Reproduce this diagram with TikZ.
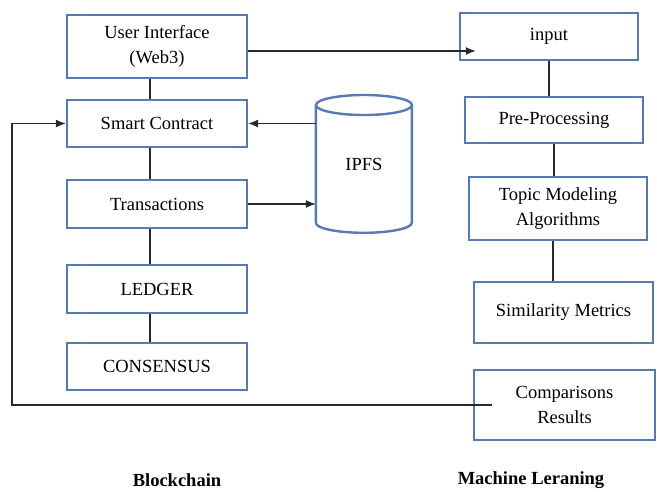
\documentclass[tikz,border=0pt]{standalone}
\usepackage{fontspec}
\setmainfont{Liberation Serif}
\usetikzlibrary{arrows.meta}
\definecolor{boxblue}{RGB}{88,122,178}
\definecolor{linegray}{RGB}{40,40,40}
\begin{document}
\begin{tikzpicture}[x=1pt,y=-1pt,
  blk/.style={draw=boxblue,line width=2.4pt,fill=white,align=center,inner sep=0pt,
    font=\fontsize{18.5}{25}\selectfont},
  conn/.style={draw=linegray,line width=1.3pt},
  arr/.style={conn,-{Latex[length=10pt,width=8pt]}},
  lbl/.style={font=\fontsize{18.5}{22}\selectfont\bfseries}]
\useasboundingbox[fill=white] (0,0) rectangle (657,491);
% left column
\node[blk,minimum width=180pt,minimum height=63pt] (ui) at (157,46.5) {User Interface\\(Web3)};
\node[blk,minimum width=180pt,minimum height=47pt] (sc) at (157,123.5) {Smart Contract};
\node[blk,minimum width=180pt,minimum height=48pt] (tx) at (157,204) {Transactions};
\node[blk,minimum width=180pt,minimum height=48pt] (ledger) at (157,289) {LEDGER};
\node[blk,minimum width=180pt,minimum height=47pt] (cons) at (157,366.5) {CONSENSUS};
% cylinder
\node[minimum width=96pt,minimum height=138pt,inner sep=0pt,font=\fontsize{18.5}{25}\selectfont] (ipfs) at (364,164) {IPFS};
\draw[boxblue,line width=2.4pt] (364,105) ellipse [x radius=48, y radius=10];
\draw[boxblue,line width=2.4pt] (ipfs.north west) ++(0,10) -- ++(0,118)
   arc[start angle=180,end angle=360,x radius=48,y radius=-10] -- ++(0,-118);
% right column
\node[blk,minimum width=178pt,minimum height=47pt] (input) at (549,36.5) {input};
\node[blk,minimum width=178pt,minimum height=46pt] (pre) at (554,120) {Pre-Processing};
\node[blk,minimum width=178pt,minimum height=63pt] (topic) at (558,208.5) {Topic Modeling\\Algorithms};
\node[blk,minimum width=179pt,minimum height=61pt] (sim) at (563.5,312.5) {Similarity Metrics};
\node[blk,minimum width=181pt,minimum height=70pt] (cmp) at (564.5,405) {Comparisons\\Results};
% labels
\node[lbl] (lb1) at (177,480) {Blockchain};
\node[lbl] (lb2) at (531,480) {Machine Leraning};
% vertical connectors
\draw[conn] ([xshift=-7pt]ui.south) -- ([xshift=-7pt]sc.north);
\draw[conn] ([xshift=-7pt]sc.south) -- ([xshift=-7pt]tx.north);
\draw[conn] ([xshift=-7pt]tx.south) -- ([xshift=-7pt]ledger.north);
\draw[conn] ([xshift=-7pt]ledger.south) -- ([xshift=-7pt]cons.north);
\draw[conn] (input.south) -- (input.south |- pre.north);
\draw[conn] (pre.south) -- (pre.south |- topic.north);
\draw[conn] ([xshift=-5pt]topic.south) -- ([xshift=-5pt]topic.south |- sim.north);
% arrows
\coordinate (uia) at ([yshift=-4.5pt]ui.east);
\draw[arr] (uia) -- ([xshift=17pt]input.west |- uia);
\coordinate (ipa) at (ipfs.west |- sc.east);
\draw[arr] (ipa) -- (sc.east);
\draw[arr] (tx.east) -- (tx.east -| ipfs.west);
% feedback
\coordinate (fbs) at ([xshift=19pt]cmp.west);
\coordinate (fbl) at (12,405);
\coordinate (fbu) at (12,123.5);
\draw[arr] (fbs) -- (fbl) -- (fbu) -- (sc.west);
\end{tikzpicture}
\end{document}
